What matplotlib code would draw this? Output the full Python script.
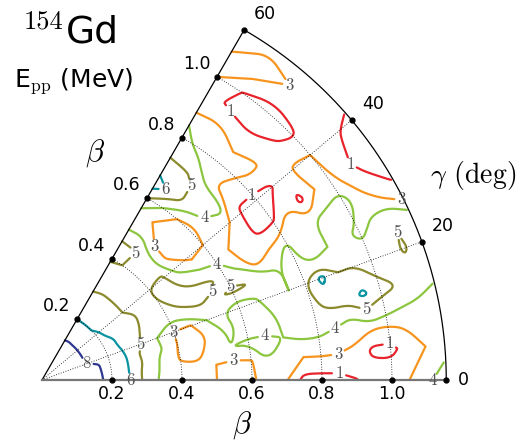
import numpy as np
import matplotlib as mpl
import matplotlib.pyplot as plt

mpl.rcParams['mathtext.fontset'] = 'cm'

# pairing energy E_pp (MeV) read on a (beta, gamma) grid, one list per gamma row
beta = np.round(np.arange(0, 1.151, 0.05), 2)
gamma_deg = [0, 5, 10, 15, 20, 25, 30, 35, 40, 45, 50, 55, 60]

epp_g00 = [10.5, 9.8, 9.0, 8.6, 7.4, 6.05, 4.6, 3.7, 3.6, 3.3, 3.0, 2.7, 2.8, 3.6, 3.1, 0.3, 0.2, 0.3, 0.9, 2.9, 2.8, 3.0, 3.9, 4.2]
epp_g05 = [10.5, 9.8, 9.0, 8.55, 7.35, 6.0, 4.6, 3.8, 3.1, 3.1, 3.0, 2.8, 2.9, 4.0, 3.5, 3.0, 3.1, 3.0, 2.8, 0.4, 0.3, 2.0, 3.0, 3.8]
epp_g10 = [10.5, 9.8, 9.0, 8.5, 7.3, 6.0, 4.8, 3.8, 2.9, 2.8, 3.3, 4.0, 4.1, 4.2, 4.0, 4.3, 4.3, 4.0, 3.5, 4.0, 3.8, 3.6, 3.6, 3.0]
epp_g15 = [10.5, 9.8, 9.0, 8.5, 7.2, 6.0, 4.7, 4.1, 3.0, 2.6, 3.2, 4.2, 3.7, 3.4, 4.1, 4.3, 4.8, 5.3, 5.5, 6.2, 5.4, 5.0, 4.5, 4.3]
epp_g20 = [10.5, 9.7, 8.7, 7.7, 6.9, 5.9, 5.0, 4.0, 3.0, 2.9, 4.0, 4.1, 3.2, 3.7, 5.0, 4.0, 5.0, 6.3, 5.0, 5.0, 4.5, 4.6, 5.1, 4.6]
epp_g25 = [10.5, 9.7, 8.7, 7.6, 6.6, 5.8, 5.1, 4.5, 4.1, 4.8, 5.0, 4.8, 5.2, 5.0, 4.6, 4.0, 4.4, 3.2, 4.0, 4.2, 3.8, 4.2, 4.9, 4.0]
epp_g30 = [10.5, 9.7, 8.7, 7.6, 6.5, 5.8, 5.2, 4.7, 4.8, 5.2, 5.3, 5.2, 4.5, 3.8, 1.8, 3.0, 4.0, 3.5, 4.0, 4.3, 4.4, 3.5, 2.0, 0.9]
epp_g35 = [10.5, 9.7, 8.7, 7.6, 6.2, 5.7, 5.2, 4.8, 5.0, 5.3, 4.6, 4.0, 3.8, 3.0, 2.5, 0.3, 0.5, 3.0, 0.5, 3.0, 3.5, 1.8, 0.2, 0.2]
epp_g40 = [10.5, 9.7, 8.7, 7.6, 6.1, 5.7, 5.0, 4.8, 5.0, 5.2, 3.5, 2.7, 3.0, 3.8, 3.0, 0.6, 0.3, 0.6, 2.5, 3.3, 3.0, 2.3, 1.2, 0.4]
epp_g45 = [10.5, 9.7, 8.7, 7.6, 6.0, 5.7, 5.0, 4.8, 5.0, 4.5, 2.8, 2.3, 2.6, 3.9, 4.8, 2.0, 2.8, 3.2, 2.8, 1.2, 0.5, 2.0, 2.5, 2.7]
epp_g50 = [10.5, 9.7, 8.7, 7.6, 6.0, 5.6, 5.0, 4.8, 5.0, 4.7, 3.0, 2.4, 3.0, 4.6, 4.5, 3.5, 3.6, 3.0, 1.5, 0.3, 0.3, 1.4, 3.0, 3.0]
epp_g55 = [10.5, 9.7, 8.8, 7.6, 6.0, 5.5, 5.0, 4.8, 5.0, 5.1, 4.0, 3.0, 4.0, 5.6, 5.5, 4.5, 3.6, 4.0, 2.8, 0.4, 0.9, 3.0, 3.4, 2.8]
epp_g60 = [10.5, 9.7, 8.8, 7.5, 6.0, 5.5, 4.9, 4.8, 5.05, 5.2, 3.9, 3.5, 5.0, 6.6, 5.4, 4.8, 4.4, 3.9, 2.5, 2.0, 3.0, 3.4, 2.8, 2.9]

levels = [1, 3, 4, 5, 6, 8]
level_colors = ['#e8232b', '#f7941e', '#8cc63f', '#8b8a2c', '#0a93a0', '#2e3790']

beta_ticks = [0.2, 0.4, 0.6, 0.8, 1.0]
gamma_ticks = [0, 20, 40, 60]
beta_max = 1.155

epp = np.array([epp_g00, epp_g05, epp_g10, epp_g15, epp_g20, epp_g25, epp_g30,
                epp_g35, epp_g40, epp_g45, epp_g50, epp_g55, epp_g60])


def px(x, y):
    # figure pixel -> data coords (origin of the triangle at pixel 42,380)
    return -0.12 + x / 350.0, 1.0857 - y / 350.0


def chaikin(pts, n=3):
    # corner cutting so the contour polylines look like smooth curves
    closed = len(pts) > 3 and np.allclose(pts[0], pts[-1])
    for _ in range(n):
        if closed:
            p = pts[:-1]
            q = np.roll(p, -1, axis=0)
            new = np.empty((2 * len(p), 2))
            new[0::2] = 0.75 * p + 0.25 * q
            new[1::2] = 0.25 * p + 0.75 * q
            pts = np.vstack([new, new[:1]])
        else:
            if len(pts) < 3:
                return pts
            p, q = pts[:-1], pts[1:]
            new = np.empty((2 * len(p), 2))
            new[0::2] = 0.75 * p + 0.25 * q
            new[1::2] = 0.25 * p + 0.75 * q
            pts = np.vstack([pts[:1], new, pts[-1:]])
    return pts


fig = plt.figure(figsize=(5.32, 4.46), dpi=100)
ax = fig.add_axes([0, 0, 1, 1])
ax.set_xlim(-0.12, 1.4)
ax.set_ylim(-0.1886, 1.0857)
ax.axis('off')

# contours
B, G = np.meshgrid(beta, np.radians(gamma_deg))
X = B * np.cos(G)
Y = B * np.sin(G)
cs = ax.contour(X, Y, epp, levels=levels, colors=level_colors, linewidths=1.6)
lbls = ax.clabel(cs, fmt='%d', fontsize=12, colors='#505050', inline=True, inline_spacing=2)
for t in lbls:
    t.set_fontfamily('cmr10')
    t.set_rotation(0)

# redraw the (label-broken) contour pieces as smooth curves
for path, col in zip(cs.get_paths(), level_colors):
    for poly in path.to_polygons(closed_only=False):
        if len(poly) < 2:
            continue
        sm = chaikin(np.asarray(poly), 3)
        ax.plot(sm[:, 0], sm[:, 1], color=col, lw=1.6, solid_capstyle='round', zorder=2)
cs.set_visible(False)

# dotted grid
t = np.radians(np.linspace(0, 60, 200))
for b in beta_ticks:
    ax.plot(b * np.cos(t), b * np.sin(t), ls=(0, (1, 2)), color='k', lw=0.6)
for g in gamma_ticks[1:3]:
    ax.plot([0, beta_max * np.cos(np.radians(g))], [0, beta_max * np.sin(np.radians(g))],
            ls=(0, (1, 2)), color='k', lw=0.6)

# frame
ax.plot(beta_max * np.cos(t), beta_max * np.sin(t), color='k', lw=0.9)
ax.plot([0, beta_max * 0.5], [0, beta_max * np.sin(np.radians(60))], color='k', lw=0.9)
ax.plot([0, beta_max], [0, 0], color='#777777', lw=1.6)

# tick dots and labels
s60 = np.sin(np.radians(60))
tick_font = dict(fontsize=12.5, family='DejaVu Sans')
for b in beta_ticks:
    ax.plot([b, b * 0.5], [0, b * s60], 'o', color='k', ms=3.5)
    ax.text(b, -0.04, f'{b:.1f}', ha='center', va='center', **tick_font)
    ax.text(b * 0.5 - 0.058, b * s60 + 0.037, f'{b:.1f}', ha='center', va='center', **tick_font)
for g in gamma_ticks:
    gr = np.radians(g)
    xd, yd = beta_max * np.cos(gr), beta_max * np.sin(gr)
    ax.plot(xd, yd, 'o', color='k', ms=3.5)
    off = (0.05, 0.0) if g == 0 else (0.06, 0.045)
    ax.text(xd + off[0], yd + off[1], str(g), ha='center', va='center', **tick_font)

# titles
ax.text(*px(24, 29), '154', ha='left', va='baseline', fontsize=19, family='cmr10')
ax.text(*px(66, 43), 'Gd', ha='left', va='baseline', fontsize=27, family='DejaVu Sans')
ax.text(*px(14, 87), r'E$_{\mathrm{pp}}$ (MeV)', ha='left', va='baseline', fontsize=18,
        family='DejaVu Sans')
ax.text(*px(95, 153), r'$\beta$', ha='center', va='center', fontsize=22)
ax.text(*px(242, 425), r'$\beta$', ha='center', va='center', fontsize=22)
ax.text(*px(473, 176), r'$\gamma$ (deg)', ha='center', va='center', fontsize=20,
        family='cmr10')

fig.savefig('out.png', dpi=100)
